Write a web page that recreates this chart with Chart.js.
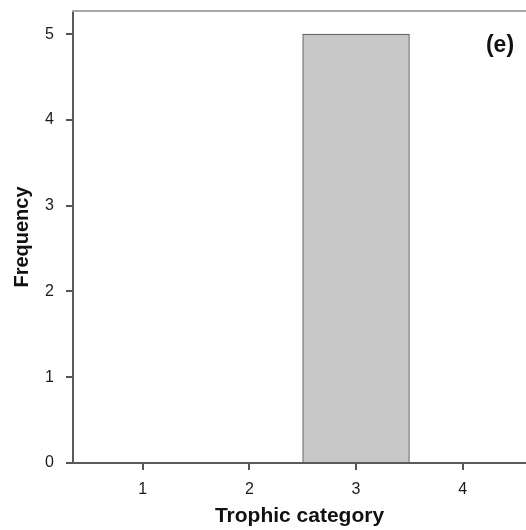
<!DOCTYPE html>
<html>
<head>
<meta charset="utf-8">
<script src="https://cdn.jsdelivr.net/npm/chart.js@4/dist/chart.umd.min.js"></script>
<style>
html,body{margin:0;padding:0;background:#fff;}
#wrap{width:526px;height:530px;position:relative;}
</style>
</head>
<body>
<div id="wrap"><canvas id="c" width="526" height="530"></canvas></div>
<script>
const categories = [1, 2, 3, 4];
const frequency = [0, 0, 5, 0];
const yTicks = [0, 1, 2, 3, 4, 5];
const panelLabel = "(e)";
const xTitle = "Trophic category";
const yTitle = "Frequency";

const font = "'Liberation Sans', Arial, sans-serif";

const extras = {
  id: 'extras',
  afterDraw(chart) {
    const ctx = chart.ctx, a = chart.chartArea;
    ctx.save();
    ctx.strokeStyle = '#a8a8a8';
    ctx.lineWidth = 2;
    ctx.beginPath();
    ctx.moveTo(a.left - 1, a.top);
    ctx.lineTo(a.right, a.top);
    ctx.stroke();
    ctx.fillStyle = '#111';
    ctx.font = "bold 23px " + font;
    ctx.textAlign = 'center';
    ctx.textBaseline = 'middle';
    ctx.fillText(panelLabel, a.right - 26, a.top + 35);
    ctx.restore();
  }
};

new Chart(document.getElementById('c'), {
  type: 'bar',
  data: {
    datasets: [{
      data: categories.map((c, i) => ({x: c, y: frequency[i]})),
      backgroundColor: '#c8c8c8',
      borderColor: '#444',
      borderWidth: 1,
      barPercentage: 1,
      categoryPercentage: 1,
      borderSkipped: 'bottom'
    }]
  },
  options: {
    responsive: false,
    animation: false,
    layout: {padding: {top: 11, right: 0, left: 0, bottom: 0}},
    plugins: {legend: {display: false}, tooltip: {enabled: false}},
    scales: {
      x: {
        type: 'linear',
        offset: false,
        min: 0.347,
        max: 4.593,
        afterBuildTicks: s => { s.ticks = categories.map(v => ({value: v})); },
        afterFit: s => { s.height = 67; s.paddingLeft = 0; s.paddingRight = 0; },
        grid: {display: true, offset: false, drawOnChartArea: false, drawTicks: true, tickLength: 7, color: '#555', lineWidth: 2},
        border: {display: true, color: '#5a5a5a', width: 2},
        ticks: {color: '#1a1a1a', font: {family: font, size: 16}, padding: 10, maxRotation: 0},
        title: {display: true, text: xTitle, color: '#111', font: {family: font, size: 21, weight: 'bold'}, padding: {top: 2, bottom: 1}}
      },
      y: {
        min: 0,
        max: 5.27,
        afterBuildTicks: s => { s.ticks = yTicks.map(v => ({value: v})); },
        afterFit: s => { s.width = 73; s.paddingTop = 0; s.paddingBottom = 0; },
        grid: {display: true, drawOnChartArea: false, drawTicks: true, tickLength: 7, color: '#555', lineWidth: 2},
        border: {display: true, color: '#5a5a5a', width: 2},
        ticks: {color: '#1a1a1a', font: {family: font, size: 16}, padding: 12},
        title: {display: true, text: yTitle, color: '#111', font: {family: font, size: 20, weight: 'bold'}, padding: {top: 10, bottom: 0}}
      }
    }
  },
  plugins: [extras]
});
</script>
</body>
</html>
